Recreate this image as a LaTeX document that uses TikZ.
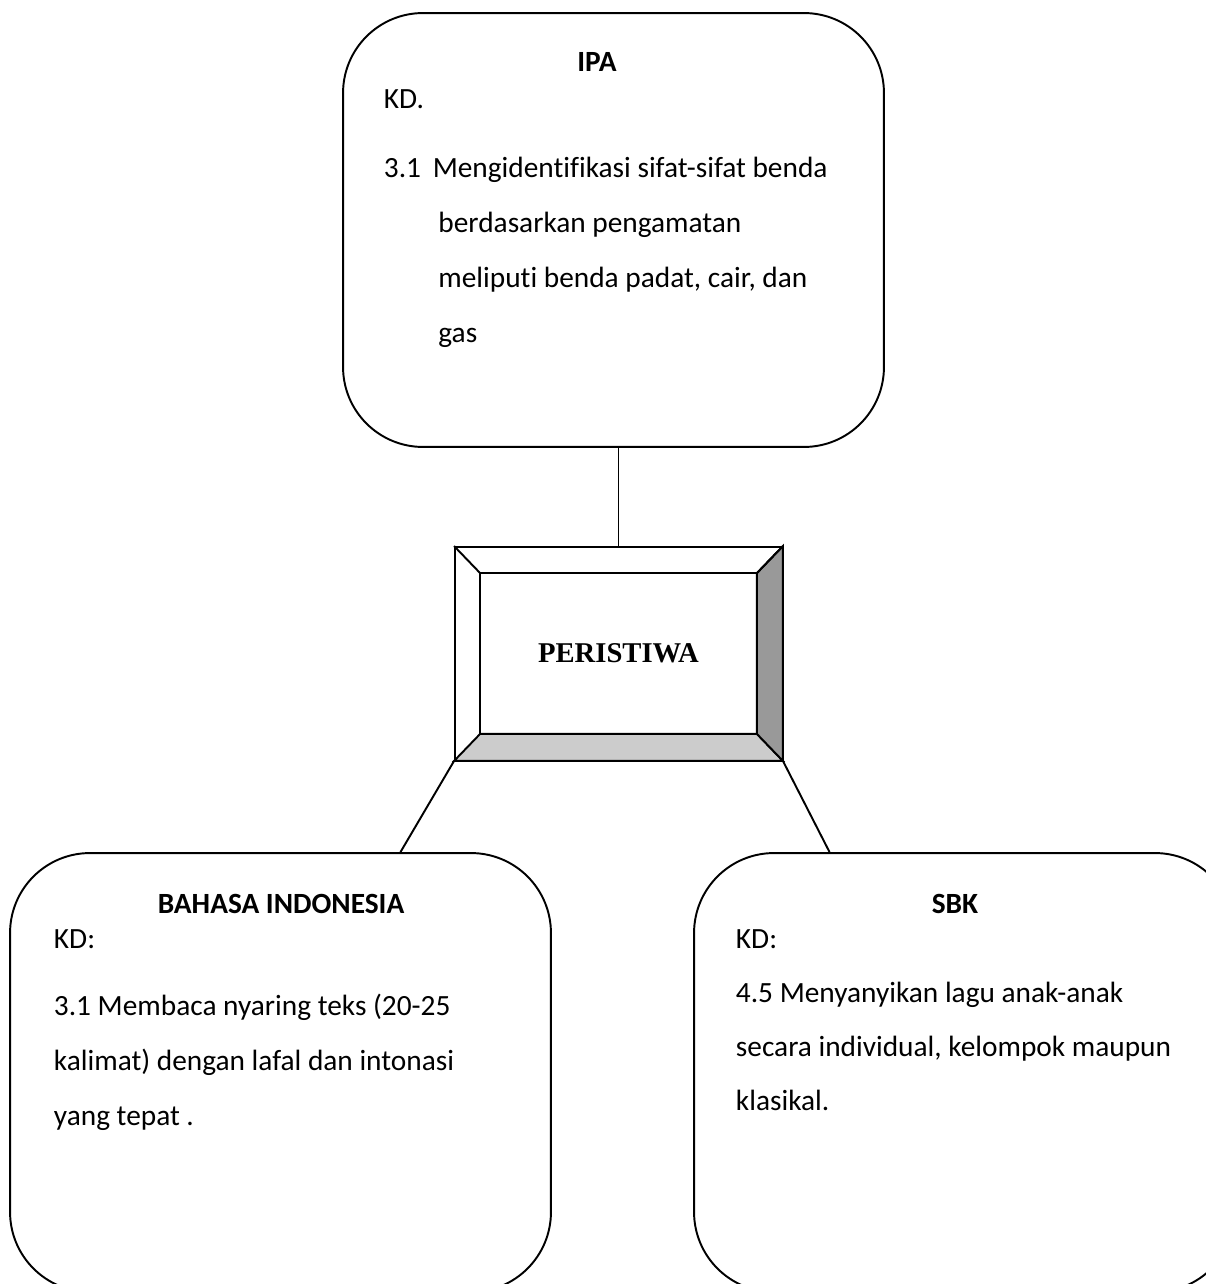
\documentclass[tikz,border=0pt]{standalone}
\usepackage{fontspec}
\setmainfont{Carlito}[Ligatures=NoCommon]
\newfontfamily\peristiwafont{Liberation Serif}
\usetikzlibrary{positioning, calc}

\tikzset{
  kdbox/.style={draw, rounded corners=1.6cm, minimum width=10.82cm, minimum height=8.78cm},
  judul/.style={anchor=base, inner sep=0pt, font=\fontsize{16.7}{20}\selectfont\bfseries},
  isi/.style={anchor=base west, align=left, inner sep=0pt, font=\fontsize{16.7}{31.2}\selectfont},
}

\begin{document}
\begin{tikzpicture}[x=0.02cm, y=-0.02cm, line width=1.1pt]
\clip (0,0) rectangle (1206,1284);

% kotak mata pelajaran
\node (ipa) [kdbox, minimum height=8.68cm] at (613.5,230) {};
\node (bahasa) [kdbox] at (280.5,1072.5) {};
\node (sbk) [kdbox] at (964.5,1072.5) {};

% tema di tengah
\node (peristiwa) [draw, minimum width=6.54cm, minimum height=4.26cm] at (618.5,653.5) {};
\coordinate (in-nw) at ([shift={(26,27)}]peristiwa.north west);
\coordinate (in-ne) at ([shift={(-26,27)}]peristiwa.north east);
\coordinate (in-se) at ([shift={(-26,-27)}]peristiwa.south east);
\coordinate (in-sw) at ([shift={(26,-27)}]peristiwa.south west);
\filldraw[fill=black!20] (peristiwa.south west) -- (peristiwa.south east) -- (in-se) -- (in-sw) -- cycle;
\filldraw[fill=black!40] (peristiwa.north east) -- (peristiwa.south east) -- (in-se) -- (in-ne) -- cycle;
\draw (in-nw) rectangle (in-se);
\draw (peristiwa.north west) -- (in-nw);
\draw (peristiwa.north east) -- (in-ne);
\node (tema) [font=\peristiwafont\bfseries\fontsize{16.3}{19}\selectfont] at (peristiwa.center) {PERISTIWA};

% garis penghubung
\draw (peristiwa.north) -- (peristiwa.north |- ipa.south);
\draw (peristiwa.south west) -- ([xshift=2.4cm]bahasa.north);
\draw (peristiwa.south east) -- ([xshift=-2.7cm]sbk.north);

% isi kotak (anchor pada baris terakhir)
\node (ipa-judul) [judul] at (597,72) {IPA};
\node (ipa-isi) [isi] at (383,342) {KD.\\[7.9pt]
  \makebox[27.8pt][l]{3.1}Mengidentifikasi sifat-sifat benda\\
  \hspace*{31pt}berdasarkan pengamatan\\
  \hspace*{31pt}meliputi benda padat, cair, dan\\
  \hspace*{31pt}gas};

\node (bahasa-judul) [judul] at (281,913) {BAHASA INDONESIA};
\node (bahasa-isi) [isi] at (53,1125) {KD:\\[7pt]
  3.1 Membaca nyaring teks (20-25\\
  kalimat) dengan lafal dan intonasi\\
  yang tepat .};

\node (sbk-judul) [judul] at (955,913) {SBK};
\node (sbk-isi) [isi] at (735,1110) {KD:\\[-0.6pt]
  4.5 Menyanyikan lagu anak-anak\\[-0.6pt]
  secara individual, kelompok maupun\\[-0.6pt]
  klasikal.};
\end{tikzpicture}
\end{document}
